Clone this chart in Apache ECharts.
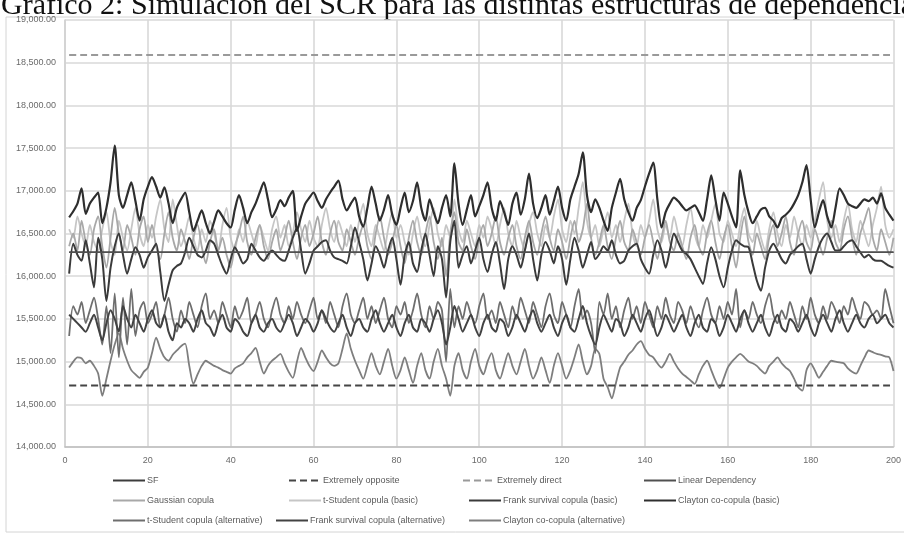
<!DOCTYPE html>
<html>
<head>
<meta charset="utf-8">
<script src="https://cdn.jsdelivr.net/npm/echarts@6/dist/echarts.min.js"></script>
<style>html,body{margin:0;padding:0;background:#fff;}#c{width:904px;height:534px;}</style>
</head>
<body>
<div id="c"></div>
<script>
const titleText = "Gráfico 2: Simulación del SCR para las distintas estructuras de dependencia";
const seriesNames = ["SF","Extremely opposite","Extremely direct","Linear Dependency","Gaussian copula","t-Student copula (basic)","Frank survival copula (basic)","Clayton co-copula (basic)","t-Student copula (alternative)","Frank survival copula (alternative)","Clayton co-copula (alternative)"];
const xTicks = [0,20,40,60,80,100,120,140,160,180,200];
const yTicks = [14000,14500,15000,15500,16000,16500,17000,17500,18000,18500,19000];

const sfLevel = 16280;
const extremelyOppositeLevel = 14720;
const extremelyDirectLevel = 18590;
const linearDependencyLevel = 16280;

const gaussian = [16350,16500,16300,16650,16400,16250,16550,16700,16350,16100,16450,16800,16500,16300,16600,16450,16250,16550,16700,16400,
16600,16350,16200,16500,16750,16450,16300,16550,16400,16200,16450,16600,16350,16150,16400,16550,16300,16450,16250,16100,
16350,16500,16700,16400,16250,16450,16600,16350,16200,16400,16550,16300,16450,16650,16400,16200,16450,16600,16350,16500,
16700,16400,16250,16500,16650,16400,16300,16550,16400,16250,16450,16600,16350,16200,16500,16700,16450,16250,16400,16600,
16350,16150,16450,16650,16400,16250,16500,16700,16400,16200,16450,16000,16500,16750,16400,16300,16550,16350,16200,16450,
16600,16350,16500,16700,16400,16250,16450,16600,16350,16200,16450,16650,16400,16250,16500,16700,16450,16300,16550,16400,
16200,16450,16650,16400,16550,16850,16450,16250,16400,16600,16350,16200,16450,16650,16400,16300,16550,16400,16250,16450,
16600,16400,16200,16450,16650,16400,16300,16500,16350,16200,16450,16600,16350,16250,16500,16650,16400,16200,16450,16600,
16350,16100,16450,16700,16400,16250,16500,16350,16200,16450,16600,16350,16500,16700,16400,16250,16500,16650,16400,16300,
16550,16400,16250,16450,16650,16400,16300,16550,16700,16450,16250,16500,16650,16800,16450,16300,16550,16400,16250,16450];

const tStudentBasic = [16550,16450,16700,16500,16350,16600,16400,16300,16550,16750,16400,16250,16650,16450,16300,16550,16800,16500,16350,16600,
16450,16700,16900,16550,16400,16900,16600,16350,16500,16700,16450,16300,16550,16400,16650,16500,16300,16600,16800,16450,
16300,16550,16400,16650,16500,16350,16600,16450,16300,16550,16700,16450,16600,16350,16500,16750,16550,16400,16650,16450,
16350,16600,16800,16550,16400,16650,16500,16350,16600,16400,16650,16850,16500,16350,16600,16450,16300,16550,16750,16450,
16600,16400,16250,16500,16700,16450,16350,16600,16800,16500,16350,16600,16450,16900,16550,16400,16650,16500,16350,16600,
16450,16700,16550,16350,16600,16800,16500,16350,16650,16450,16300,16600,16750,16500,16350,16600,16450,16700,16900,16550,
16400,16650,16500,16800,17100,16650,16450,16600,16350,16550,16750,16450,16600,16400,16650,16850,16500,16350,16600,16450,
16650,16900,16550,16400,16600,16450,16700,16500,16350,16600,16800,16500,16350,16600,16450,16650,16850,16500,16400,16650,
16500,16350,16600,16800,16500,16400,16650,16450,16300,16550,16750,16500,16350,16600,16450,16700,16500,16350,16600,16450,
16650,16900,17100,16650,16450,16600,16400,16650,16850,16550,16400,16650,16500,16350,16600,16800,17050,16600,16450,16550];

const frankBasic = [16030,16380,16250,16180,16420,16150,15870,16450,16200,15710,16100,16350,16500,16250,16030,16200,16340,16250,16100,16220,
16300,16380,16050,15710,15900,16070,16120,16150,16280,16450,16350,16250,16220,16300,16420,16380,16250,16120,16030,16200,
16340,16250,16150,16200,16380,16300,16220,16180,16250,16300,16250,16200,16180,16300,16450,16570,16300,16030,16150,16300,
16350,16400,16420,16300,16220,16200,16180,16150,16350,16570,16400,16200,15950,16150,16350,16250,16100,16300,16450,16200,
15900,16250,16400,16150,16050,16300,16500,16250,16000,16350,16200,15750,16400,16650,16100,16250,16350,16150,16300,16450,
16200,16050,16250,16400,16150,15850,16200,16350,16250,16100,16300,16500,16200,15950,16250,16400,16300,16150,16350,16200,
15900,16200,16450,16300,16100,16250,16400,16200,16260,16350,16300,16420,16250,16150,16180,16300,16350,16380,16200,16100,
16030,16250,16420,16300,16100,16300,16500,16400,16300,16260,16200,16100,16000,15910,16150,16340,16200,16000,15870,16100,
16300,16420,16380,16350,16340,16150,15950,15830,16100,16300,16380,16300,16200,16150,16250,16300,16350,16380,16200,16030,
16200,16350,16450,16500,16400,16300,16300,16350,16400,16420,16350,16280,16220,16250,16200,16180,16180,16150,16120,16100];

const claytonBasic = [16690,16760,16850,17030,16730,16850,16920,16980,16620,16800,17100,17530,16950,16800,16950,17100,16880,16650,16900,17050,
17160,17050,16920,17040,16850,16620,16800,16900,16980,16750,16530,16650,16770,16620,16500,16640,16770,16700,16620,16570,
16780,16950,16800,16620,16750,16850,16980,17100,16900,16690,16780,16890,16820,16920,17000,16530,16700,16850,16920,16980,
16880,16800,16900,16980,17050,17120,16900,16770,16850,16920,16700,16580,16800,17050,16850,16650,16780,16950,16720,16600,
16800,16980,16750,16880,17100,16800,16650,16900,16750,16620,16800,16950,16700,17320,16850,16600,16780,16950,16700,16820,
16950,17100,16800,16650,16880,16750,16600,16850,16980,16720,16900,17200,16850,16680,16800,16950,16720,16880,17050,16800,
16650,16900,17050,17200,17450,16950,16750,16900,16800,16650,16530,16800,16980,17140,16900,16750,16650,16800,16890,17050,
17200,17330,16900,16570,16750,16850,16920,16880,16820,16770,16800,16830,16750,16650,16900,17180,16900,16650,16980,16850,
16700,16570,17240,16950,16750,16620,16700,16780,16800,16700,16650,16570,16680,16720,16770,16850,16950,17100,17300,16900,
16570,16750,16890,16700,16570,16800,17030,16950,16850,16820,16800,16850,16900,16880,16920,16850,16970,16800,16720,16650];

const tStudentAlt = [15300,15650,15550,15700,15450,15600,15750,15500,15200,15650,15100,15800,15050,15750,15200,15850,15300,15600,15700,15450,
15550,15700,15400,15550,15750,15500,15350,15600,15450,15700,15550,15400,15650,15800,15500,15600,15450,15700,15550,15400,
15650,15500,15600,15750,15450,15550,15700,15500,15400,15600,15750,15550,15450,15650,15500,15700,15550,15450,15600,15750,
15500,15600,15450,15700,15550,15400,15650,15800,15550,15450,15600,15750,15500,15650,15450,15600,15750,15500,15400,15650,
15550,15700,15450,15600,15800,15550,15400,15650,15500,15700,15600,15000,15850,15400,15650,15500,15700,15550,15450,15650,
15800,15500,15600,15450,15700,15550,15400,15650,15500,15750,15600,15450,15700,15550,15400,15650,15800,15550,15450,15700,
15550,15400,15650,15850,15500,15600,15450,15100,15700,15550,15800,15500,15650,15400,15600,15750,15500,15650,15450,15700,
15550,15400,15650,15500,15750,15550,15450,15700,15600,15450,15650,15500,15400,15600,15750,15550,15450,15650,15500,15700,
15550,15850,15400,15600,15500,15700,15550,15450,15650,15800,15550,15450,15600,15500,15700,15550,15400,15650,15500,15750,
15550,15450,15650,15500,15700,15600,15450,15650,15550,15750,15600,15500,15700,15650,15550,15600,15500,15850,15650,15450];

const frankAlt = [15550,15500,15450,15400,15350,15450,15550,15400,15250,15450,15600,15500,15350,15650,15500,15400,15550,15450,15350,15500,
15600,15450,15400,15550,15350,15250,15450,15400,15500,15450,15350,15500,15600,15450,15400,15300,15450,15550,15400,15350,
15500,15450,15350,15300,15450,15550,15400,15350,15450,15500,15400,15350,15450,15550,15450,15300,15400,15500,15450,15350,
15450,15600,15500,15400,15350,15450,15550,15400,15300,15450,15500,15400,15350,15500,15600,15450,15350,15450,15550,15400,
15300,15450,15550,15400,15350,15500,15450,15350,15500,15600,15450,15200,15400,15650,15500,15350,15450,15550,15400,15300,
15450,15550,15400,15350,15500,15450,15300,15400,15550,15450,15350,15500,15600,15450,15350,15450,15550,15400,15300,15450,
15550,15400,15350,15500,15650,15450,15300,15200,15400,15550,15450,15350,15500,15450,15300,15400,15550,15450,15350,15500,
15600,15450,15300,15400,15550,15450,15350,15450,15550,15400,15300,15450,15550,15400,15350,15500,15450,15300,15400,15550,
15450,15350,15500,15600,15450,15350,15450,15550,15400,15300,15450,15550,15400,15350,15500,15450,15350,15450,15550,15400,
15300,15450,15550,15450,15350,15500,15600,15450,15350,15450,15550,15450,15400,15500,15550,15450,15500,15550,15450,15400];

const claytonAlt = [14930,15000,15050,15040,14980,15010,14950,14860,14600,14800,15010,15200,15330,15150,15010,14900,14850,14810,14880,14930,
15100,15280,15150,15050,15010,15080,15130,15180,15210,14950,14740,14850,14950,15010,14980,14950,14930,14900,14880,14860,
14920,14950,14980,15050,15100,15160,15000,14860,14950,15010,15050,15090,14980,14880,14810,15000,15160,15050,14950,14890,
15000,15130,15050,14980,14950,14980,15150,15330,15150,15010,14900,14800,14950,15100,14950,14850,15000,15150,14950,14800,
14900,15050,14900,14750,14950,15100,14900,14800,15000,15150,14950,14800,14600,14950,15100,14900,14800,15000,15150,14950,
14850,15000,15100,14900,14800,14950,15100,14950,14850,15000,15150,14950,14800,14900,15050,14900,14750,14950,15100,14950,
14800,14900,15050,15200,15000,14850,14950,15150,15090,14800,14700,14570,14750,14930,15000,15080,15130,15200,15240,15150,
15080,15050,14980,14930,15000,15090,15000,14920,14860,14820,14780,14740,14850,14950,15010,14900,14780,14690,14800,14930,
15000,15050,15090,15050,15000,14980,14950,14900,14860,14950,15000,15050,14980,14930,14890,14800,14700,14660,14900,14980,
14900,14810,14880,14950,15010,15000,14990,14980,14920,14880,14860,14950,15050,15130,15110,15090,15080,15060,15050,14890];

// ---------- layout / styles ----------
const FONT = "'Liberation Sans Narrow','Liberation Sans',Arial,sans-serif";
const styles = [
  {color:'#3c3c3c', width:1.6, type:'solid'},
  {color:'#454545', width:1.8, type:[7,4]},
  {color:'#9a9a9a', width:1.8, type:[7,4]},
  {color:'#505050', width:1.6, type:'solid'},
  {color:'#a8a8a8', width:1.8, type:'solid'},
  {color:'#c6c6c6', width:1.8, type:'solid'},
  {color:'#3a3a3a', width:2, type:'solid'},
  {color:'#2e2e2e', width:2.2, type:'solid'},
  {color:'#6e6e6e', width:1.8, type:'solid'},
  {color:'#424242', width:2, type:'solid'},
  {color:'#7e7e7e', width:1.8, type:'solid'}
];
const legendLeft = [112,288,462,643, 112,288,468,643, 112,275,468];
const legendTop  = [476,476,476,476, 496,496,496,496, 516,516,516];

const idx = gaussian.map((_, i) => i + 1);
const constant = v => idx.map(x => [x, v]);
const pairs = arr => arr.map((v, i) => [i + 1, v]);
const seriesData = [
  constant(sfLevel),
  constant(extremelyOppositeLevel),
  constant(extremelyDirectLevel),
  constant(linearDependencyLevel),
  pairs(gaussian),
  pairs(tStudentBasic),
  pairs(frankBasic),
  pairs(claytonBasic),
  pairs(tStudentAlt),
  pairs(frankAlt),
  pairs(claytonAlt)
];
// draw order: light ones first, dark on top
const drawOrder = [2,5,4,10,8,9,6,7,0,3,1];

const fmt = v => v.toLocaleString('en-US', {minimumFractionDigits:2, maximumFractionDigits:2});

const chart = echarts.init(document.getElementById('c'), null, {renderer:'canvas'});
chart.setOption({
  animation:false,
  backgroundColor:'#ffffff',
  graphic:[
    {type:'rect', shape:{x:6, y:17, width:905, height:515}, style:{fill:'none', stroke:'#d4d4d4', lineWidth:1}, z:-1},
    {type:'text', left:1, top:-9, style:{text:titleText, font:"30px 'Liberation Serif','Times New Roman',serif", fill:'#111'}}
  ],
  grid:{left:65, right:9, top:20, bottom:87, containLabel:false},
  xAxis:{
    type:'value', min:xTicks[0], max:xTicks[xTicks.length-1], interval:20,
    axisLine:{lineStyle:{color:'#bfbfbf', width:1.5}},
    axisTick:{show:false},
    axisLabel:{color:'#6a6a6a', fontSize:9, fontFamily:FONT, margin:9},
    splitLine:{show:true, lineStyle:{color:'#d9d9d9', width:1.6}}
  },
  yAxis:{
    type:'value', min:yTicks[0], max:yTicks[yTicks.length-1], interval:500,
    axisLine:{show:true, lineStyle:{color:'#d0d0d0', width:1.5}},
    axisTick:{show:false},
    axisLabel:{color:'#6a6a6a', fontSize:9, fontFamily:FONT, margin:9, formatter:fmt},
    splitLine:{show:true, lineStyle:{color:'#d9d9d9', width:1.6}}
  },
  legend: seriesNames.map((n, i) => ({
    data:[n], left:legendLeft[i], top:legendTop[i], itemWidth:32, itemHeight:10, padding:0,
    selectedMode:false, itemStyle:{opacity:0},
    textStyle:{fontSize:9, color:'#5a5a5a', fontFamily:FONT, padding:[0,0,0,-3]}
  })),
  series: drawOrder.map((i, k) => ({
    name:seriesNames[i], type:'line', data:seriesData[i], symbol:'none', smooth:0.25,
    lineStyle:{color:styles[i].color, width:styles[i].width, type:styles[i].type},
    itemStyle:{color:styles[i].color}, z:2+k
  }))
});
</script>
</body>
</html>
